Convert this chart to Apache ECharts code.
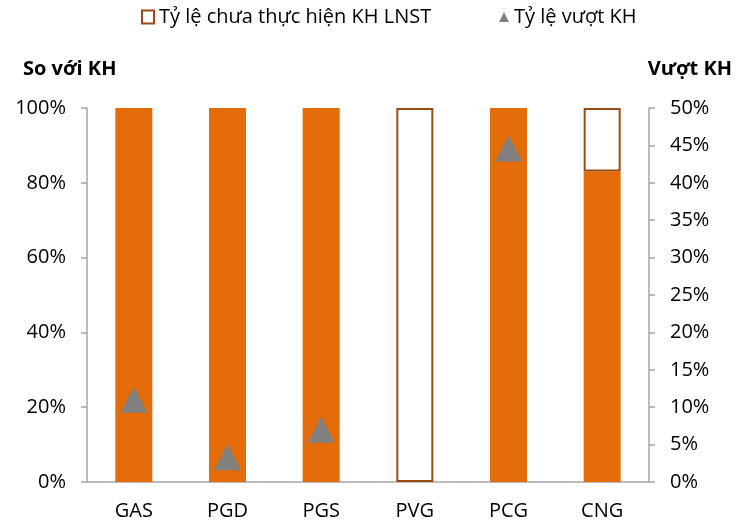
<!DOCTYPE html>
<html>
<head>
<meta charset="utf-8">
<script src="https://cdn.jsdelivr.net/npm/echarts@6/dist/echarts.min.js"></script>
<style>
  html, body { margin: 0; padding: 0; background: #fff; }
  #chart { width: 737px; height: 521px; }
</style>
</head>
<body>
<div id="chart"></div>
<script>
// Dữ liệu
const categories = ['GAS', 'PGD', 'PGS', 'PVG', 'PCG', 'CNG'];
const achieved = [100, 100, 100, null, 100, 83];      // phần đã thực hiện (cam)
const notAchieved = [null, null, null, 100, null, 17]; // Tỷ lệ chưa thực hiện KH LNST
const overPlan = [11, 3.3, 7, null, 44.6, null];       // Tỷ lệ vượt KH (trục phải)

const FONT = 'Open Sans';
const FS = 20;
const ORANGE = '#E46C0A';
const BROWN = '#9C4A13';
const GREY = '#808080';
const AXIS = '#A6A6A6';

const chart = echarts.init(document.getElementById('chart'));

const option = {
    animation: false,
    textStyle: { fontFamily: FONT, color: '#000' },
    title: [
        { text: 'So với KH', left: 18, top: 54,
          textStyle: { fontFamily: FONT, fontSize: FS, fontWeight: 'bold', color: '#000' } },
        { text: 'Vượt KH', right: 0, top: 54,
          textStyle: { fontFamily: FONT, fontSize: FS, fontWeight: 'bold', color: '#000' } }
    ],
    legend: [
        {
            left: 141, top: 7, padding: 0,
            itemWidth: 12, itemHeight: 13,
            textStyle: { fontFamily: FONT, fontSize: FS, color: '#000' },
            data: [{ name: 'Tỷ lệ chưa thực hiện KH LNST', icon: 'rect',
                     itemStyle: { color: '#fff', borderColor: BROWN, borderWidth: 2 } }]
        },
        {
            left: 499, top: 7, padding: 0,
            itemWidth: 10, itemHeight: 10,
            textStyle: { fontFamily: FONT, fontSize: FS, color: '#000' },
            data: [{ name: 'Tỷ lệ vượt KH', icon: 'triangle',
                     itemStyle: { color: GREY, opacity: 1 } }]
        }
    ],
    grid: { left: 87, right: 88, top: 108, bottom: 39, containLabel: false },
    xAxis: {
        type: 'category',
        data: categories,
        axisTick: { show: false },
        axisLine: { lineStyle: { color: AXIS, width: 1.5 } },
        axisLabel: { fontFamily: FONT, fontSize: FS, color: '#000', margin: 19 }
    },
    yAxis: [
        {
            type: 'value', min: 0, max: 100, interval: 20,
            axisLine: { show: true, lineStyle: { color: AXIS, width: 1.5 } },
            axisTick: { show: true, length: 6, lineStyle: { color: AXIS, width: 1.5 } },
            splitLine: { show: false },
            axisLabel: { formatter: '{value}%', fontFamily: FONT, fontSize: FS, color: '#000', margin: 21 }
        },
        {
            type: 'value', min: 0, max: 50, interval: 5, position: 'right',
            axisLine: { show: true, lineStyle: { color: AXIS, width: 1.5 } },
            axisTick: { show: true, length: 6, lineStyle: { color: AXIS, width: 1.5 } },
            splitLine: { show: false },
            axisLabel: { formatter: '{value}%', fontFamily: FONT, fontSize: FS, color: '#000', margin: 21 }
        }
    ],
    series: [
        {
            name: 'Tỷ lệ thực hiện',
            type: 'bar', stack: 'kh', barWidth: 37,
            itemStyle: { color: ORANGE },
            data: achieved
        },
        {
            name: 'Tỷ lệ chưa thực hiện KH LNST',
            type: 'bar', stack: 'kh', barWidth: 37,
            itemStyle: { color: '#fff', borderColor: BROWN, borderWidth: 2 },
            data: notAchieved
        },
        {
            name: 'Tỷ lệ vượt KH',
            type: 'scatter', yAxisIndex: 1,
            symbol: 'triangle', symbolSize: [27, 26],
            itemStyle: { color: GREY, opacity: 1 },
            data: overPlan
        }
    ]
};

chart.setOption(option);
</script>
</body>
</html>
